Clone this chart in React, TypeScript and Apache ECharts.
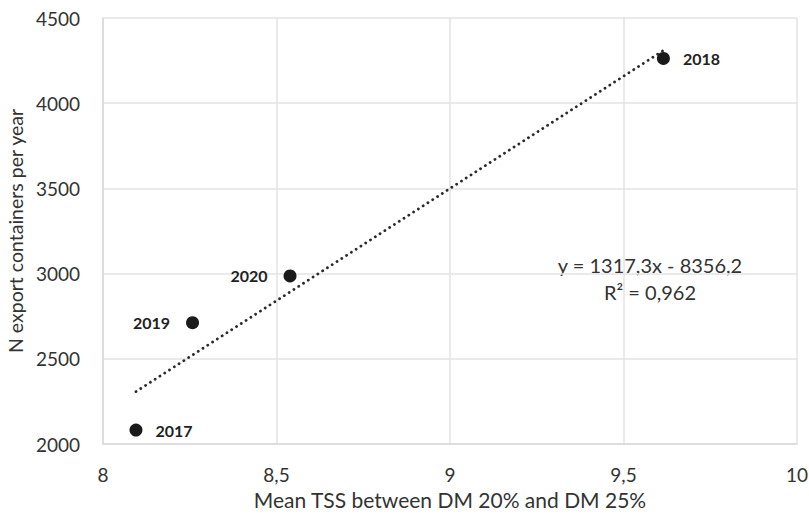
import React, { useEffect, useRef } from "react";
import * as echarts from "echarts";

const years = ["2017", "2018", "2019", "2020"];
const meanTSS = [8.095, 9.615, 8.258, 8.539];
const containers = [2082, 4263, 2712, 2986];
const trendSlope = 1317.3;
const trendIntercept = -8356.2;
const equationLines = ["y = 1317,3x - 8356,2", "R² = 0,962"];
const xAxisTitle = "Mean TSS between DM 20% and DM 25%";
const yAxisTitle = "N export containers per year";

const FONT = "Lato";

export default function App() {
  const ref = useRef<HTMLDivElement>(null);
  useEffect(() => {
    if (!ref.current) return;
    const chart = echarts.init(ref.current, undefined, { renderer: "svg" });
    const leftLabel: Record<string, boolean> = { "2019": true, "2020": true };
    const points = years.map((yr, i) => ({
      name: yr,
      value: [meanTSS[i], containers[i]],
      label: {
        position: leftLabel[yr] ? "left" : "right",
        distance: leftLabel[yr] ? 16 : 13,
      },
    }));
    const xmin = Math.min(...meanTSS);
    const xmax = Math.max(...meanTSS);
    const trend = [
      [xmin, trendSlope * xmin + trendIntercept],
      [xmax, trendSlope * xmax + trendIntercept],
    ];
    const fmt = (v: number) => String(v).replace(".", ",");
    chart.setOption({
      animation: false,
      backgroundColor: "#ffffff",
      grid: {
        left: 103,
        right: 12,
        top: 18,
        bottom: 71,
        containLabel: false,
        outerBoundsMode: "none",
      },
      xAxis: {
        type: "value",
        min: 8,
        max: 10,
        interval: 0.5,
        name: xAxisTitle,
        nameLocation: "middle",
        nameGap: 42,
        nameTextStyle: { fontFamily: FONT, fontSize: 21, color: "#333" },
        axisLine: { show: true, lineStyle: { color: "#d9d9d9", width: 1.5 } },
        axisTick: { show: false },
        axisLabel: { formatter: fmt, fontFamily: FONT, fontSize: 19, color: "#333", margin: 21 },
        splitLine: { show: true, lineStyle: { color: "#e3e3e3", width: 1.5 } },
      },
      yAxis: {
        type: "value",
        min: 2000,
        max: 4500,
        interval: 500,
        name: yAxisTitle,
        nameLocation: "middle",
        nameGap: 73,
        nameTextStyle: { fontFamily: FONT, fontSize: 19.5, color: "#333" },
        axisLine: { show: true, lineStyle: { color: "#d9d9d9", width: 1.5 } },
        axisTick: { show: false },
        axisLabel: { formatter: (v: number) => String(v), fontFamily: FONT, fontSize: 19, color: "#333", margin: 23 },
        splitLine: { show: true, lineStyle: { color: "#e3e3e3", width: 1.5 } },
      },
      series: [
        {
          type: "line",
          data: trend,
          symbol: "none",
          lineStyle: { color: "#2a2a2a", width: 2.8, type: [0.1, 5.6], cap: "round" },
          z: 2,
        },
        {
          type: "scatter",
          data: points,
          symbolSize: 13,
          itemStyle: { color: "#1a1a1a", opacity: 1 },
          label: {
            show: true,
            formatter: "{b}",
            fontFamily: FONT,
            fontWeight: "bold",
            fontSize: 16,
            color: "#222",
          },
          z: 3,
        },
      ],
      graphic: [
        {
          type: "text",
          x: 650,
          y: 265,
          style: {
            text: equationLines[0],
            fontFamily: FONT,
            fontSize: 20,
            fill: "#333",
            align: "center",
            verticalAlign: "middle",
          },
        },
        {
          type: "text",
          x: 650,
          y: 292,
          style: {
            text: equationLines[1],
            fontFamily: FONT,
            fontSize: 20,
            fill: "#333",
            align: "center",
            verticalAlign: "middle",
          },
        },
      ],
    });
    return () => chart.dispose();
  }, []);
  return (
    <div
      ref={ref}
      style={{ position: "fixed", left: 0, top: 0, width: 809, height: 515 }}
    />
  );
}
